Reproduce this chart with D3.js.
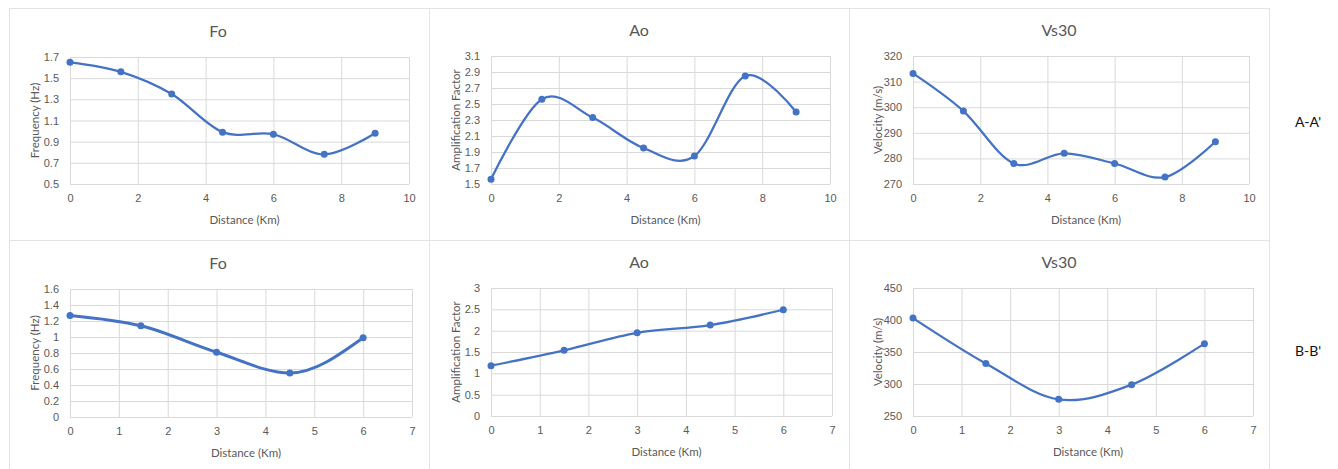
<!DOCTYPE html>
<html>
<head>
<meta charset="utf-8">
<script src="https://cdn.jsdelivr.net/npm/d3@7"></script>
<style>
  body { margin: 0; background: #fff; }
  svg { display: block; font-family: Lato, "Open Sans", sans-serif; }
</style>
</head>
<body>
<div id="chart"></div>
<script>
// distances along each profile (km)
const dist_a = [0, 1.5, 3, 4.5, 6, 7.5, 9];
const dist_b = [0, 1.45, 3, 4.5, 6];
const dist_b2 = [0, 1.5, 3, 4.5, 6];

// A-A' profile
const fo_a = [1.65, 1.56, 1.35, 0.99, 0.97, 0.78, 0.98];
const ao_a = [1.56, 2.56, 2.33, 1.95, 1.85, 2.85, 2.40];
const vs_a = [313.2, 298.5, 278, 282, 278, 272.7, 286.5];

// B-B' profile
const fo_b = [1.27, 1.14, 0.81, 0.55, 0.99];
const ao_b = [1.18, 1.54, 1.95, 2.13, 2.49];
const vs_b = [403, 332, 276, 299, 363];

// axis ticks
const x_ticks_a = [0, 2, 4, 6, 8, 10];
const x_ticks_b = [0, 1, 2, 3, 4, 5, 6, 7];
const fo_a_ticks = [0.5, 0.7, 0.9, 1.1, 1.3, 1.5, 1.7];
const ao_a_ticks = [1.5, 1.7, 1.9, 2.1, 2.3, 2.5, 2.7, 2.9, 3.1];
const vs_a_ticks = [270, 280, 290, 300, 310, 320];
const fo_b_ticks = [0, 0.2, 0.4, 0.6, 0.8, 1, 1.2, 1.4, 1.6];
const ao_b_ticks = [0, 0.5, 1, 1.5, 2, 2.5, 3];
const vs_b_ticks = [250, 300, 350, 400, 450];

const titles = ['Fo', 'Ao', 'Vs30'];
const y_titles = ['Frequency (Hz)', 'Amplification Factor', 'Velocity (m/s)'];
const x_title = 'Distance (Km)';
const row_labels = ["A-A'", "B-B'"];

const width = 1338, height = 469;
const grey = '#595959';
const grid = '#d9d9d9';
const blue = '#4472c4';

const svg = d3.select('#chart')
    .append('svg')
    .attr('width', width)
    .attr('height', height);

// panel frames
const frame_x = [9, 429, 849, 1269];
const frame_y = [8, 240, 480];
for (let fx of frame_x) {
    svg.append('line')
        .attr('x1', fx + 0.5).attr('x2', fx + 0.5)
        .attr('y1', frame_y[0]).attr('y2', height)
        .attr('stroke', '#e3e3e3');
}
for (let fy of frame_y.slice(0, 2)) {
    svg.append('line')
        .attr('x1', frame_x[0]).attr('x2', frame_x[3])
        .attr('y1', fy + 0.5).attr('y2', fy + 0.5)
        .attr('stroke', '#e3e3e3');
}

const smooth = d3.curveCardinal.tension(0);

const panels = [
    {xs: dist_a, ys: fo_a, xt: x_ticks_a, yt: fo_a_ticks, fmt: '.1f', t: 0, left: 70, right: 409, top: 57, bottom: 184, cx: 218},
    {xs: dist_a, ys: ao_a, xt: x_ticks_a, yt: ao_a_ticks, fmt: '.1f', t: 1, left: 491, right: 830, top: 56, bottom: 184, cx: 639},
    {xs: dist_a, ys: vs_a, xt: x_ticks_a, yt: vs_a_ticks, fmt: 'd', t: 2, left: 913, right: 1249, top: 56, bottom: 184, cx: 1059},
    {xs: dist_b, ys: fo_b, xt: x_ticks_b, yt: fo_b_ticks, fmt: '~g', t: 0, left: 70, right: 412, top: 289, bottom: 417, cx: 218, sw: 3, curve: d3.curveMonotoneX},
    {xs: dist_b2, ys: ao_b, xt: x_ticks_b, yt: ao_b_ticks, fmt: '~g', t: 1, left: 491, right: 832, top: 288, bottom: 416, cx: 639},
    {xs: dist_b2, ys: vs_b, xt: x_ticks_b, yt: vs_b_ticks, fmt: 'd', t: 2, left: 913, right: 1253, top: 288, bottom: 416, cx: 1059},
];

function draw_panel(p) {
    const x = d3.scaleLinear()
        .domain(d3.extent(p.xt))
        .range([p.left, p.right]);
    const y = d3.scaleLinear()
        .domain(d3.extent(p.yt))
        .range([p.bottom, p.top]);

    // gridlines + tick labels via axes
    const gx = svg.append('g')
        .attr('transform', `translate(0, ${p.bottom})`)
        .call(d3.axisBottom(x)
            .tickValues(p.xt)
            .tickSize(-(p.bottom - p.top))
            .tickPadding(10)
            .tickFormat(d3.format('d')));
    const gy = svg.append('g')
        .attr('transform', `translate(${p.left}, 0)`)
        .call(d3.axisLeft(y)
            .tickValues(p.yt)
            .tickSize(-(p.right - p.left))
            .tickPadding(11)
            .tickFormat(d3.format(p.fmt)));
    for (let g of [gx, gy]) {
        g.select('.domain').remove();
        g.selectAll('line').attr('stroke', grid);
        g.selectAll('text')
            .attr('fill', grey)
            .style('font-size', '11px');
    }

    // title
    svg.append('text')
        .attr('x', p.cx)
        .attr('y', p.top - 20)
        .attr('text-anchor', 'middle')
        .attr('fill', grey)
        .style('font-size', '16px')
        .text(titles[p.t]);

    // axis titles
    svg.append('text')
        .attr('x', (p.left + p.right) / 2 + 5)
        .attr('y', p.bottom + 40)
        .attr('text-anchor', 'middle')
        .attr('fill', grey)
        .style('font-size', '11.5px')
        .text(x_title);
    svg.append('text')
        .attr('transform', `translate(${p.left - 31}, ${(p.top + p.bottom) / 2}) rotate(-90)`)
        .attr('text-anchor', 'middle')
        .attr('fill', grey)
        .style('font-size', '11.5px')
        .text(y_titles[p.t]);

    // smoothed line like the spreadsheet one
    const pts = p.xs.map((d, i) => [d, p.ys[i]]);
    svg.append('path')
        .datum(pts)
        .attr('fill', 'none')
        .attr('stroke', blue)
        .attr('stroke-width', p.sw || 2.25)
        .attr('d', d3.line()
            .x((d) => x(d[0]))
            .y((d) => y(d[1]))
            .curve(p.curve || smooth));

    svg.append('g')
        .selectAll('circle')
        .data(pts)
        .join('circle')
            .attr('cx', (d) => x(d[0]))
            .attr('cy', (d) => y(d[1]))
            .attr('r', 3.5)
            .attr('fill', blue);
}

panels.forEach(draw_panel);

// row labels on the right
svg.selectAll('.row-label')
    .data(row_labels)
    .join('text')
        .attr('class', 'row-label')
        .attr('x', 1308)
        .attr('y', (d, i) => i === 0 ? 127 : 356)
        .attr('text-anchor', 'middle')
        .attr('fill', '#111')
        .style('font-size', '14px')
        .text((d) => d);
</script>
</body>
</html>
